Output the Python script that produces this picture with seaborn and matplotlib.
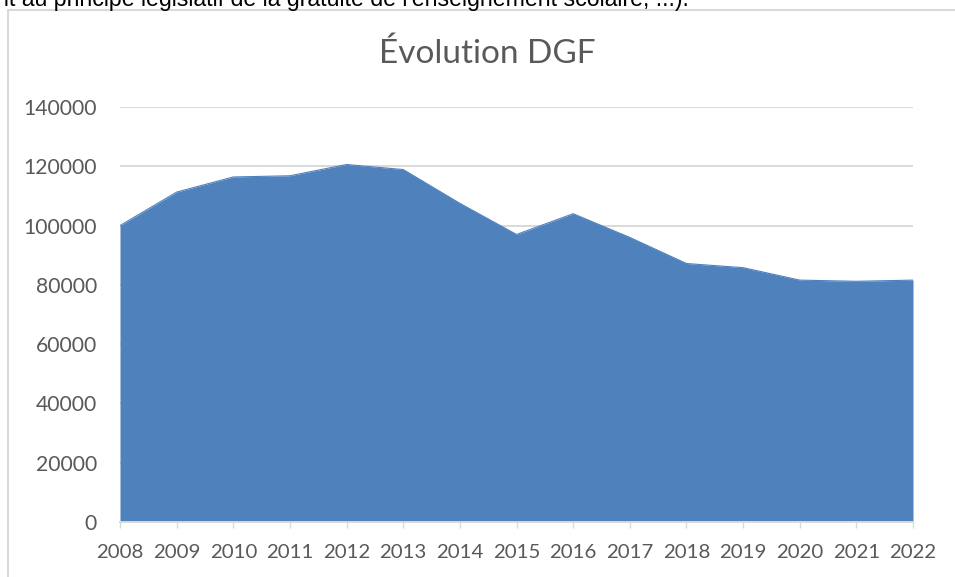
import numpy as np
import pandas as pd
import matplotlib
matplotlib.use("Agg")
import matplotlib.pyplot as plt
from matplotlib.patches import Rectangle
import seaborn as sns

# DGF values
years = [2008, 2009, 2010, 2011, 2012, 2013, 2014, 2015,
         2016, 2017, 2018, 2019, 2020, 2021, 2022]
dgf = [100000, 111300, 116400, 116800, 120600, 118900, 107500, 97000,
       104000, 96000, 87200, 85800, 81600, 81200, 81600]
y_ticks = [0, 20000, 40000, 60000, 80000, 100000, 120000, 140000]
title = "Évolution DGF"
top_text = "nt au principe législatif de la gratuité de l'enseignement scolaire, ...)."

FILL = "#4f81bd"
GRID = "#d9d9d9"
TXT = "#595959"

sns.set_theme(style="white")
plt.rcParams["font.family"] = ["Lato", "DejaVu Sans"]

df = pd.DataFrame({"year": years, "dgf": dgf})

fig = plt.figure(figsize=(9.55, 5.77), dpi=100)
ax = fig.add_axes([120 / 955, 1 - 522 / 577, (913 - 120) / 955, (522 - 107) / 577])

# clipped text line from the surrounding document
fig.text(-4 / 955, 1 - 6 / 577, top_text, fontsize=16.7, color="black",
         family=["Liberation Sans", "DejaVu Sans"], ha="left", va="baseline")

# chart frame (Excel style), runs off the right and bottom edges
fig.patches.append(Rectangle((8 / 955, -0.1), 1.2, 1.1 - 10 / 577,
                             transform=fig.transFigure, fill=False,
                             edgecolor=GRID, linewidth=1.5))

# title is centred on the whole chart frame, not the plot area
fig.text(487 / 955, 1 - 63 / 577, title, fontsize=24, color=TXT,
         ha="center", va="baseline")

sns.lineplot(data=df, x="year", y="dgf", ax=ax, color=FILL, linewidth=0.8)
ax.fill_between(df["year"], df["dgf"], color=FILL, linewidth=0, zorder=2)

ax.set_xlim(years[0], years[-1])
ax.set_ylim(0, 140000)
ax.set_xticks(years)
ax.set_xticklabels([str(y) for y in years])
ax.set_yticks(y_ticks)
ax.set_yticklabels([str(v) for v in y_ticks])

ax.grid(axis="y", color=GRID, linewidth=1.4)
ax.set_axisbelow(True)
for side in ["top", "right", "left"]:
    ax.spines[side].set_visible(False)
ax.spines["bottom"].set_color(GRID)
ax.spines["bottom"].set_linewidth(1.4)

ax.tick_params(axis="x", bottom=True, length=4.5, width=1, color=GRID,
               pad=11, labelsize=14.7, labelcolor=TXT)
ax.tick_params(axis="y", left=False, length=0, pad=16.5,
               labelsize=15.2, labelcolor=TXT)

ax.set_xlabel("")
ax.set_ylabel("")

fig.savefig("out.png", dpi=100)
